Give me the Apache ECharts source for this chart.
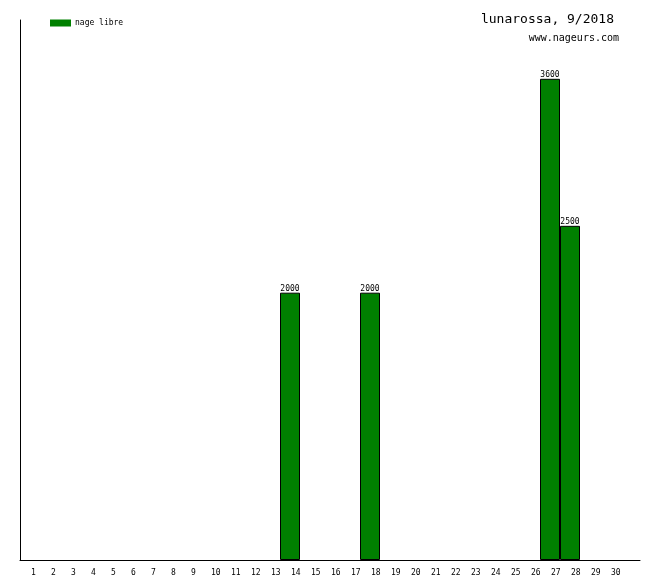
<!DOCTYPE html>
<html><head><meta charset="utf-8">
<script src="https://cdn.jsdelivr.net/npm/echarts@6/dist/echarts.min.js"></script>
<style>html,body{margin:0;padding:0;background:#fff}#c{width:660px;height:580px}</style>
</head><body><div id="c"></div>
<script>
const days = ['1','2','3','4','5','6','7','8','9','10','11','12','13','14','15','16','17','18','19','20','21','22','23','24','25','26','27','28','29','30',''];
const nageLibre = [null,null,null,null,null,null,null,null,null,null,null,null,null,2000,null,null,null,2000,null,null,null,null,null,null,null,null,3600,2500,null,null,null];
const seriesName = 'nage libre';
const titleText = 'lunarossa, 9/2018';
const subText = 'www.nageurs.com';

const mono = 'DejaVu Sans Mono';
const chart = echarts.init(document.getElementById('c'), null, {renderer:'canvas'});
chart.setOption({
  animation:false,
  backgroundColor:'#fff',
  title:[
    {text:titleText, right:41, top:8, textStyle:{fontFamily:mono, fontSize:13, fontWeight:'normal', color:'#000'}},
    {text:subText, right:36, top:28, textStyle:{fontFamily:mono, fontSize:10, fontWeight:'normal', color:'#000'}}
  ],
  legend:{left:50, top:19, padding:0, itemWidth:21, itemHeight:7, itemGap:4, icon:'rect',
    itemStyle:{borderWidth:0, color:'#008000'},
    data:[seriesName], textStyle:{fontFamily:mono, fontSize:8, color:'#000', padding:[0,0,0,-1]}},
  grid:{left:20, right:20, top:20, bottom:20, containLabel:false},
  xAxis:{type:'category', data:days, boundaryGap:true,
    axisLine:{lineStyle:{color:'#000', width:1}}, axisTick:{show:false},
    axisLabel:{interval:0, align:'left', margin:9, padding:[0,0,0,1], fontFamily:mono, fontSize:8, color:'#000'}},
  yAxis:{type:'value', min:0, max:4040, splitLine:{show:false},
    axisLine:{show:true, lineStyle:{color:'#000', width:1}}, axisTick:{show:false}, axisLabel:{show:false}},
  series:[{name:seriesName, type:'bar', data:nageLibre, barWidth:'100%', barCategoryGap:'0%',
    itemStyle:{color:'#008000', borderColor:'#000', borderWidth:1},
    label:{show:true, position:'top', distance:0, fontFamily:mono, fontSize:8, color:'#000'}}]
});
</script></body></html>
